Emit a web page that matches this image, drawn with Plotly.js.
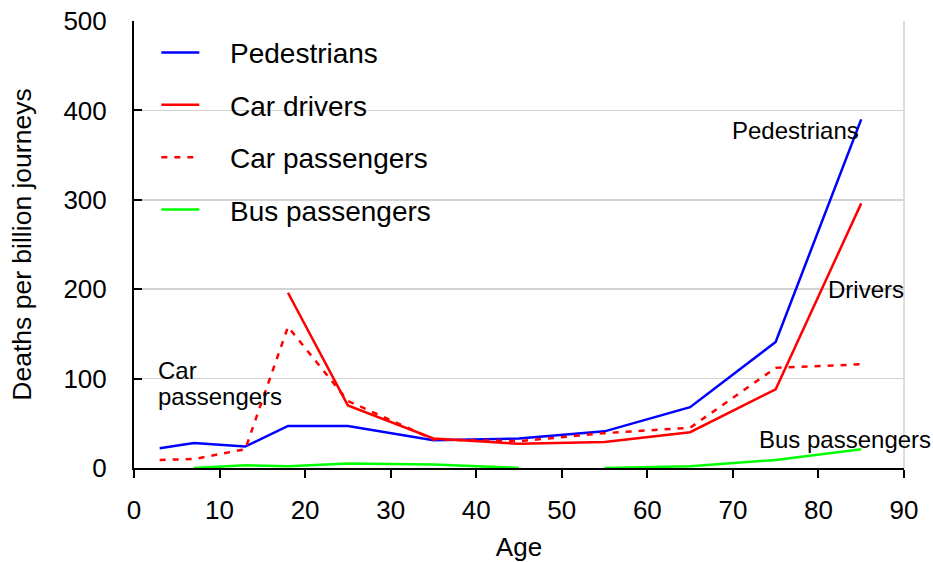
<!DOCTYPE html>
<html>
<head>
<meta charset="utf-8">
<script src="https://cdn.plot.ly/plotly-3.0.1.min.js"></script>
<style>html,body{margin:0;padding:0;background:#fff;}#chart{width:933px;height:562px;}</style>
</head>
<body>
<div id="chart"></div>
<script>
const ages = [3, 7, 13, 18, 25, 35, 45, 55, 65, 75, 85];
const pedestrians = [22, 28, 24, 47, 47, 31, 33, 41, 68, 141, 390];
const driverAges = [18, 25, 35, 45, 55, 65, 75, 85];
const carDrivers = [196, 70, 33, 27, 29, 40, 88, 296];
const carPassengers = [9, 10, 21, 158, 75, 32, 30, 39, 45, 112, 116];
const busAgesYoung = [7, 13, 18, 25, 35, 45];
const busYoung = [0, 3, 2, 5, 4, 0];
const busAgesOld = [55, 65, 75, 85];
const busOld = [0, 2, 9, 21];
const xTicks = [0, 10, 20, 30, 40, 50, 60, 70, 80, 90];
const yTicks = [0, 100, 200, 300, 400, 500];

const FONT = '"Liberation Sans", Arial, sans-serif';
const LW = 2.5;
const PAD = '&nbsp;&nbsp;&nbsp;&#8202;';

const traces = [
  {x: ages, y: pedestrians, name: PAD + 'Pedestrians', mode: 'lines', legendgroup: 'a',
   line: {color: '#0000ff', width: LW}},
  {x: driverAges, y: carDrivers, name: PAD + 'Car drivers', mode: 'lines', legendgroup: 'b',
   line: {color: '#ff0000', width: LW}},
  {x: ages, y: carPassengers, name: PAD + 'Car passengers', mode: 'lines', legendgroup: 'c',
   line: {color: '#ff0000', width: LW, dash: '6px,7px'}},
  {x: busAgesYoung, y: busYoung, name: PAD + 'Bus passengers', mode: 'lines', legendgroup: 'd',
   line: {color: '#00ff00', width: LW}},
  {x: busAgesOld, y: busOld, name: 'Bus passengers', mode: 'lines', legendgroup: 'd', showlegend: false,
   line: {color: '#00ff00', width: LW}}
];

const annFont = {family: FONT, size: 24, color: '#000'};
const layout = {
  width: 933, height: 562,
  margin: {l: 134, r: 29, t: 21, b: 94},
  paper_bgcolor: '#fff', plot_bgcolor: '#fff',
  font: {family: FONT, size: 26, color: '#000'},
  showlegend: true,
  legend: {x: 0.029, y: 0.985, xanchor: 'left', yanchor: 'top', bgcolor: 'rgba(255,255,255,0)',
           font: {family: FONT, size: 28, color: '#000'}, traceorder: 'grouped', tracegroupgap: 13,
           itemwidth: 38},
  xaxis: {
    range: [0, 90], tickvals: xTicks, ticktext: xTicks.map(String),
    showgrid: false, zeroline: false, showline: true, linecolor: '#000', linewidth: 2,
    ticks: 'outside', ticklen: 8, tickwidth: 2, tickcolor: '#000', ticklabelstandoff: 10,
    title: {text: 'Age', font: {family: FONT, size: 26, color: '#000'}, standoff: 16}
  },
  yaxis: {
    range: [0, 500], tickvals: yTicks, ticktext: yTicks.map(String),
    showgrid: true, gridcolor: '#d3d3d3', gridwidth: 1.5, zeroline: false,
    showline: true, linecolor: '#000', linewidth: 2,
    ticks: 'inside', ticklen: 8, tickwidth: 2, tickcolor: '#000', ticklabelstandoff: 20,
    title: {text: 'Deaths per billion journeys', font: {family: FONT, size: 26.5, color: '#000'}, standoff: 24}
  },
  shapes: [
    {type: 'line', xref: 'paper', yref: 'paper', x0: 1, x1: 1, y0: 0, y1: 1,
     line: {color: '#d3d3d3', width: 1.5}, layer: 'below'}
  ],
  annotations: [
    {text: 'Pedestrians', x: 85, y: 377, xref: 'x', yref: 'y', xanchor: 'right', yanchor: 'middle', showarrow: false, font: annFont},
    {text: 'Drivers', x: 80.9, y: 200, xref: 'x', yref: 'y', xanchor: 'left', yanchor: 'middle', showarrow: false, font: annFont},
    {text: 'Bus passengers', x: 72.8, y: 32, xref: 'x', yref: 'y', xanchor: 'left', yanchor: 'middle', showarrow: false, font: annFont},
    {text: 'Car', x: 2.6, y: 109, xref: 'x', yref: 'y', xanchor: 'left', yanchor: 'middle', showarrow: false, font: annFont},
    {text: 'passengers', x: 2.6, y: 80, xref: 'x', yref: 'y', xanchor: 'left', yanchor: 'middle', showarrow: false, font: annFont}
  ]
};

Plotly.newPlot('chart', traces, layout, {displayModeBar: false, staticPlot: true});
</script>
</body>
</html>
